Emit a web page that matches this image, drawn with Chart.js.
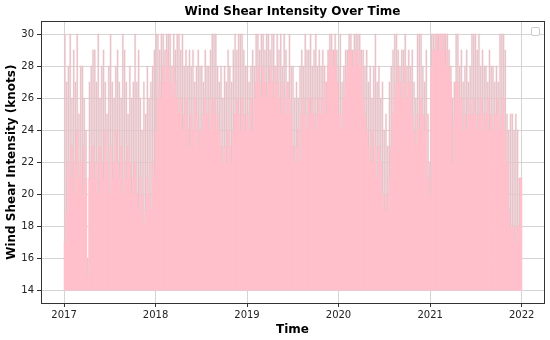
<!DOCTYPE html>
<html>
<head>
<meta charset="utf-8">
<script src="https://cdn.jsdelivr.net/npm/chart.js@4.4.1/dist/chart.umd.min.js"></script>
<style>
  body { margin: 0; background: #fff; }
</style>
</head>
<body>
<canvas id="chart" width="550" height="340"></canvas>
<script>
// Weekly readings in knots, first week starts 2017-01-01.
// typical = level most days of the week reach, peak = highest day of the week
const typical2017 = [17,19,22,21,23,20,22,24,21,22,20,23,21, 15,
  21,22,23,21,22,20,23,22,21,24,22,20,23,21,22,24,22,21,23,20,22,21,23,22,20,21,22,
  20,19,21,20,18,19,21,20,19,22,21]
const peak2017 = [30,27,28,30,26,29,27,30,25,28,28,26,24, 16,
  27,28,29,29,27,30,26,28,29,27,25,28,30,27,26,28,29,27,26,30,29,27,25,28,26,27,30,
  27,29,26,24,27,25,28,26,27,28,29]

const typical2018 = [24,26,27,26,28,27,29,28,27,26,28,27,26,
  25,26,24,25,26,24,23,25,24,26,25,23,24,
  24,25,26,25,24,26,25,26,24,25,24,23,22,
  23,22,24,23,22,24,25,26,25,24,26,25,24]
const peak2018 = [30,30,29,30,30,29,30,30,30,28,30,29,30,
  30,29,30,28,29,28,29,28,29,27,28,29,28,
  28,27,29,28,28,29,30,30,30,28,27,28,26,
  28,27,29,28,27,29,30,29,30,30,30,29,28]

const typical2019 = [25,24,26,24,26,27,28,27,26,28,27,26,27,28,
  27,26,28,27,26,25,27,26,25,27,26,25,23,22,
  23,24,22,25,26,25,24,26,25,26,25,24,25,26,
  25,26,27,25,28,29,29,28,29,27]
const peak2019 = [28,27,28,29,28,30,30,29,30,30,29,30,30,29,
  30,30,28,30,29,30,28,30,29,27,30,28,28,26,
  27,26,28,29,28,30,29,29,30,28,29,30,28,29,
  28,29,28,27,29,30,30,29,30,29]

const typical2020 = [25,25,24,26,27,
  28,29,29,28,29,29,28,29,28,
  26,25,24,23,22,24,22,23,21,23,22,20,19,20,19,21,23,
  25,26,27,28,27,26,27,28,26,27,
  27,25,24,23,25,24,26,25,24,25,21]
const peak2020 = [28,30,27,28,29,
  29,30,30,29,30,30,30,30,29,
  29,28,29,27,28,26,28,30,27,28,26,27,24,25,23,27,28,
  29,30,30,29,28,29,29,30,28,29,
  28,29,27,26,30,30,30,28,27,29,25]

const typical2021 = [20,
  28,29,29,30,29,30,29,30,28,29,28,
  27,22,25, 27,27,26,26,
  24,25,24,26,25,25,26,25,24,25,26,25,24,25,26,24,25,24,25,
  25,26,24,25,26,24,
  22,19,18,18,18,17,18,18,21]
const peak2021 = [22,
  30,30,30,30,30,30,30,30,30,30,29,
  28,26,27, 30,30,28,29,
  27,28,29,27,28,30,30,30,29,30,28,29,28,28,27,29,28,28,27,
  28,27,30,30,30,29,
  25,24,25,25,24,25,24,21,21]

const yearTicks = [2017, 2018, 2019, 2020, 2021, 2022]
const knotTicks = [14, 16, 18, 20, 22, 24, 26, 28, 30]
const baseKnots = 14

const typical = [].concat(typical2017, typical2018, typical2019, typical2020, typical2021)
const peak = [].concat(peak2017, peak2018, peak2019, peak2020, peak2021)

const DAY = 86400000
const start = Date.UTC(2017, 0, 1)
const weeks = typical.map((_, i) => start + (i * 7 + 3.5) * DAY)

// matplotlib-style box round the axes and the empty legend frame
const frame = {
  id: 'frame',
  afterDraw(chart) {
    const { ctx, chartArea: a } = chart
    ctx.save()
    ctx.strokeStyle = '#333'
    ctx.lineWidth = 1
    ctx.strokeRect(Math.round(a.left) + 0.5, Math.round(a.top) + 0.5,
      Math.round(a.right - a.left), Math.round(a.bottom - a.top))
    ctx.strokeStyle = '#cccccc'
    ctx.fillStyle = '#fff'
    ctx.beginPath()
    ctx.roundRect(Math.round(a.right) - 12.5, Math.round(a.top) + 6.5, 8, 8, 1.5)
    ctx.fill()
    ctx.stroke()
    ctx.restore()
  }
}

const tickFont = { family: 'DejaVu Sans', size: 10 }
const titleFont = { family: 'DejaVu Sans', size: 12, weight: 'bold' }

new Chart(document.getElementById('chart'), {
  type: 'bar',
  data: {
    datasets: [
      {
        data: weeks.map((x, i) => ({ x: x, y: [typical[i], peak[i]] })),
        backgroundColor: '#e2c4c9',
        barThickness: 0.6,
        grouped: false
      },
      {
        data: weeks.map((x, i) => ({ x: x, y: [typical[i], peak[i]] })),
        backgroundColor: 'rgba(255,192,203,0.3)',
        barPercentage: 1,
        categoryPercentage: 1,
        grouped: false
      },
      {
        data: weeks.map((x, i) => ({ x: x, y: [baseKnots, typical[i]] })),
        backgroundColor: '#ffc0cb',
        barPercentage: 1,
        categoryPercentage: 1,
        grouped: false
      }
    ]
  },
  options: {
    responsive: false,
    animation: false,
    devicePixelRatio: 1,
    layout: { padding: { left: 0, right: 6, top: 0, bottom: 0 } },
    plugins: {
      legend: { display: false },
      tooltip: { enabled: false },
      title: {
        display: true,
        text: 'Wind Shear Intensity Over Time',
        color: '#000',
        font: titleFont,
        fullSize: false,
        padding: { top: 5, bottom: 2 }
      }
    },
    scales: {
      x: {
        type: 'linear',
        offset: false,
        min: start - 92 * DAY,
        max: Date.UTC(2022, 0, 1) + 89 * DAY,
        afterBuildTicks: s => { s.ticks = yearTicks.map(y => ({ value: Date.UTC(y, 0, 1) })) },
        afterFit: s => { s.height = 37 },
        ticks: {
          color: '#222',
          font: tickFont,
          padding: 2,
          maxRotation: 0,
          callback: v => new Date(v).getUTCFullYear()
        },
        grid: { color: '#d4d4d4', tickColor: '#333', tickLength: 4, offset: false },
        border: { color: '#333' },
        title: { display: true, text: 'Time', color: '#000', font: titleFont, padding: { top: 0, bottom: 3 } }
      },
      y: {
        min: 13.2,
        max: 30.8,
        afterBuildTicks: s => { s.ticks = knotTicks.map(v => ({ value: v })) },
        afterFit: s => { s.width = 41 },
        ticks: { color: '#222', font: tickFont, padding: 3 },
        grid: { color: '#d4d4d4', tickColor: '#333', tickLength: 4 },
        border: { color: '#333' },
        title: {
          display: true,
          text: 'Wind Shear Intensity (knots)',
          color: '#000',
          font: titleFont,
          padding: { top: 5, bottom: 0 }
        }
      }
    }
  },
  plugins: [frame]
})
</script>
</body>
</html>
